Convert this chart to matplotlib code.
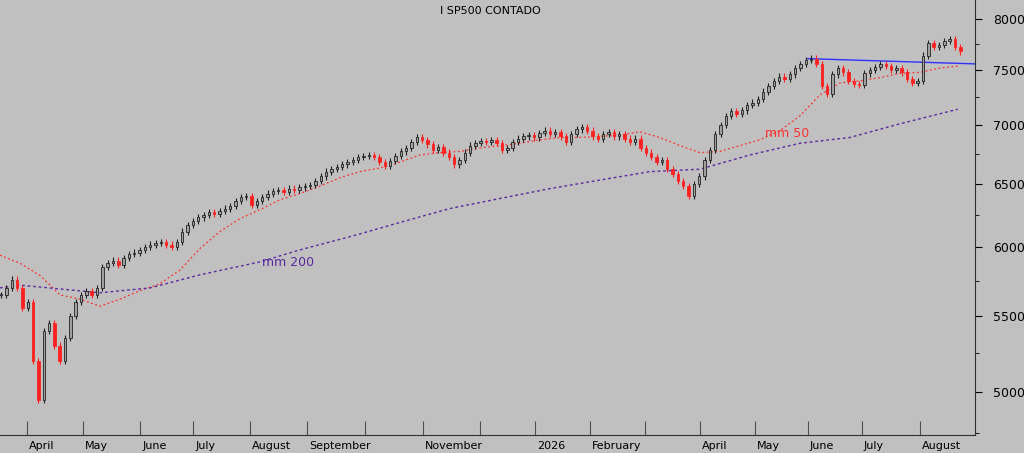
import numpy as np
import matplotlib
matplotlib.use("Agg")
import matplotlib.pyplot as plt
from matplotlib.ticker import FixedLocator, NullFormatter

closes = [5650,5700,5760,5700,5560,5600,5200,4950,5400,5450,5300,5200,5350,5500,5600,5650,5680,5650,5700,5850,
5880,5900,5870,5920,5950,5960,5980,6000,6020,6030,6040,6020,6000,6040,6120,6170,6200,6230,6250,6270,
6260,6280,6300,6320,6360,6390,6400,6330,6360,6390,6420,6440,6450,6430,6460,6450,6470,6480,6490,6520,
6560,6600,6620,6640,6660,6680,6700,6720,6730,6740,6720,6680,6650,6690,6730,6770,6800,6850,6890,6870,
6830,6780,6810,6760,6720,6660,6700,6760,6820,6840,6860,6850,6870,6840,6780,6800,6850,6880,6900,6910,
6890,6930,6950,6920,6940,6900,6850,6920,6960,6980,6950,6900,6880,6920,6940,6900,6920,6880,6850,6880,
6800,6760,6720,6680,6700,6620,6580,6520,6480,6400,6500,6560,6700,6780,6920,7000,7080,7120,7100,7130,
7180,7200,7230,7300,7350,7400,7440,7420,7460,7520,7560,7600,7610,7560,7350,7280,7460,7520,7480,7400,
7370,7360,7470,7500,7530,7560,7540,7500,7520,7480,7420,7380,7400,7640,7760,7720,7740,7780,7800,7720,7680]

ma50_px = [0,20,40,60,80,100,120,140,160,180,200,220,240,260,280,300,320,340,360,380,400,420,440,460,480,500,
520,540,560,580,600,620,640,660,680,700,720,740,760,780,800,820,840,860,880,900,920,940,958]
ma50 = [5940,5880,5790,5650,5620,5570,5620,5680,5730,5830,5990,6120,6220,6290,6370,6420,6480,6550,6600,6630,6680,
6740,6760,6770,6800,6820,6840,6870,6890,6890,6900,6910,6940,6890,6820,6760,6770,6820,6870,6950,7080,7270,7380,
7400,7430,7470,7480,7520,7540]
ma200_px = [0,20,100,150,200,260,300,350,400,450,500,550,600,650,700,750,800,850,900,958]
ma200 = [5700,5720,5665,5700,5795,5890,5980,6080,6190,6300,6380,6460,6530,6600,6620,6740,6840,6890,7010,7140]

month_px = [27,83,140,193,250,307,365,423,480,535,590,645,700,755,808,862,920]
month_lbl = ["April","May","June","July","August","September","","November","","2026","February","","April","May","June","July","August"]
yticks = [5000,5500,6000,6500,7000,7500,8000]

PX = 5.33  # pixels per candle
fig = plt.figure(figsize=(10.24,4.53), dpi=100)
fig.patch.set_facecolor("#c0c0c0")
ax = fig.add_axes([0,0.04,0.952,0.96])
ax.set_facecolor("#c0c0c0")
ax.set_yscale("log")
ax.set_ylim(4736, 8194)
ax.set_xlim(0, 975/PX)

c = np.array(closes, float)
o = np.r_[c[0], c[:-1]]
x = np.arange(len(c)) + 0.2
for xi, oi, ci in zip(x, o, c):
    up = ci >= oi
    hi = max(oi, ci)*1.004; lo = min(oi, ci)*0.996
    col = "#222222" if up else "#ff2020"
    ax.vlines(xi, lo, hi, color=col, lw=0.8, zorder=3)
    ax.bar(xi, abs(ci-oi) or 3, bottom=min(oi, ci), width=0.45,
           color="#a0a0a0" if up else "#ff2020", edgecolor=col, lw=0.6, zorder=4)

ax.plot(np.array(ma50_px)/PX, ma50, color="#ff3030", ls=(0,(1.5,2)), lw=0.9)
ax.plot(np.array(ma200_px)/PX, ma200, color="#5a2aa0", ls=(0,(2,2)), lw=1.0)
ax.plot([808/PX, 975/PX], [7610, 7560], color="#3030ff", lw=1.0)
ax.text(765/PX, 6890, "mm 50", color="#ff3030", fontsize=9)
ax.text(262/PX, 5860, "mm 200", color="#5a2aa0", fontsize=9)
ax.text(490/975, 0.975, "I SP500 CONTADO", transform=ax.transAxes, fontsize=8, ha="center", va="center")

for s in ["top","left"]:
    ax.spines[s].set_visible(False)
ax.spines["right"].set_color("#303030")
ax.spines["bottom"].set_color("#303030")
ax.yaxis.tick_right()
ax.yaxis.set_major_locator(FixedLocator(yticks))
ax.yaxis.set_minor_locator(FixedLocator([4750,5250,5750,6250,6750,7250,7750]))
ax.yaxis.set_minor_formatter(NullFormatter())
ax.set_yticklabels([str(v) for v in yticks], fontsize=9)
ax.tick_params(axis="y", which="major", length=5, pad=8)
ax.tick_params(axis="y", which="minor", length=3)
ax.set_xticks(np.array(month_px)/PX)
ax.set_xticklabels([])
ax.tick_params(axis="x", length=10, direction="in", color="#505050")
for p, l in zip(month_px, month_lbl):
    ax.text(p/PX+0.4, -0.015, l, transform=ax.get_xaxis_transform(), fontsize=8, va="top", ha="left")
fig.savefig("out.png", dpi=100, facecolor=fig.get_facecolor())
